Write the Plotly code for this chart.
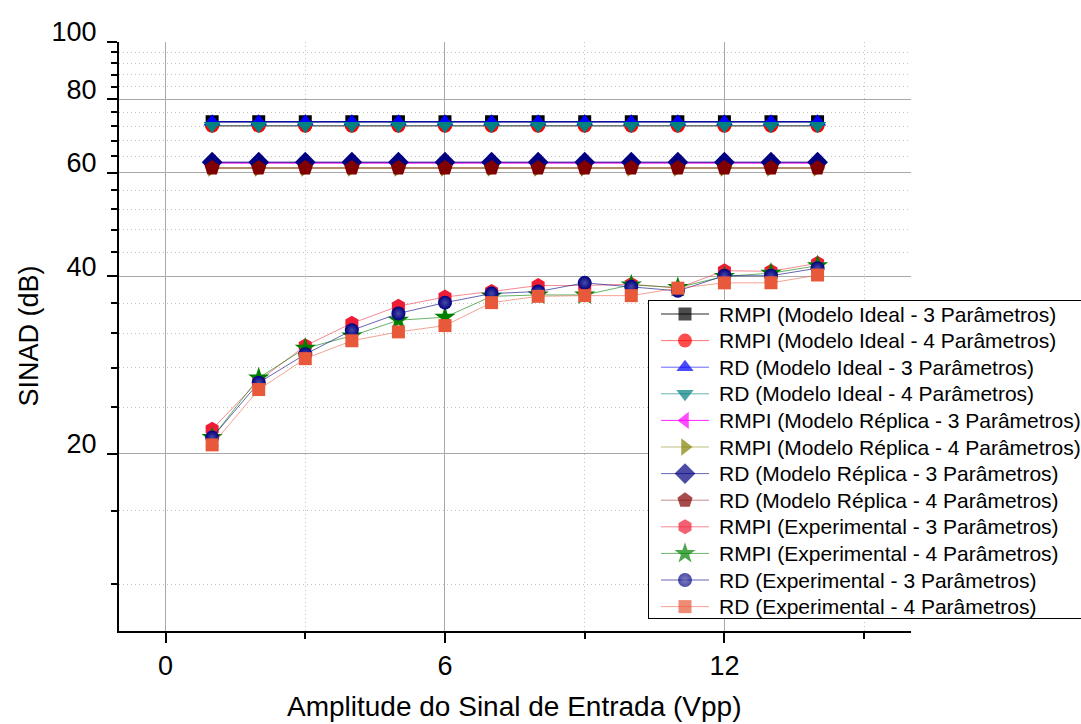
import plotly.graph_objects as go

# Input amplitude (Vpp)
amplitude = [1, 2, 3, 4, 5, 6, 7, 8, 9, 10, 11, 12, 13, 14]

# SINAD (dB) per configuration
rmpi_ideal_3p = [73.2, 73.2, 73.2, 73.2, 73.2, 73.2, 73.2, 73.2, 73.2, 73.2, 73.2, 73.2, 73.2, 73.2]
rmpi_ideal_4p = [72.1, 72.1, 72.1, 72.1, 72.1, 72.1, 72.1, 72.1, 72.1, 72.1, 72.1, 72.1, 72.1, 72.1]
rd_ideal_3p = [73.2, 73.2, 73.2, 73.2, 73.2, 73.2, 73.2, 73.2, 73.2, 73.2, 73.2, 73.2, 73.2, 73.2]
rd_ideal_4p = [72.1, 72.1, 72.1, 72.1, 72.1, 72.1, 72.1, 72.1, 72.1, 72.1, 72.1, 72.1, 72.1, 72.1]
rmpi_replica_3p = [62.3, 62.3, 62.3, 62.3, 62.3, 62.3, 62.3, 62.3, 62.3, 62.3, 62.3, 62.3, 62.3, 62.3]
rmpi_replica_4p = [61.1, 61.1, 61.1, 61.1, 61.1, 61.1, 61.1, 61.1, 61.1, 61.1, 61.1, 61.1, 61.1, 61.1]
rd_replica_3p = [62.5, 62.5, 62.5, 62.5, 62.5, 62.5, 62.5, 62.5, 62.5, 62.5, 62.5, 62.5, 62.5, 62.5]
rd_replica_4p = [61.1, 61.1, 61.1, 61.1, 61.1, 61.1, 61.1, 61.1, 61.1, 61.1, 61.1, 61.1, 61.1, 61.1]
rmpi_exp_3p = [22.0, 26.6, 30.5, 33.3, 35.6, 36.9, 37.7, 38.6, 38.6, 38.8, 38.2, 40.9, 40.8, 42.1]
rmpi_exp_4p = [21.3, 26.9, 30.2, 31.7, 33.7, 34.1, 37.0, 37.2, 37.2, 38.7, 38.3, 40.0, 40.5, 41.7]
rd_exp_3p = [21.3, 26.4, 29.5, 32.4, 34.6, 36.1, 37.4, 37.7, 39.0, 38.4, 37.8, 40.1, 40.1, 41.3]
rd_exp_4p = [20.7, 25.7, 29.0, 31.1, 32.2, 33.0, 36.1, 37.0, 37.1, 37.1, 38.2, 39.0, 39.0, 40.2]

series_names = [
    "RMPI (Modelo Ideal - 3 Parâmetros)",
    "RMPI (Modelo Ideal - 4 Parâmetros)",
    "RD (Modelo Ideal - 3 Parâmetros)",
    "RD (Modelo Ideal - 4 Parâmetros)",
    "RMPI (Modelo Réplica - 3 Parâmetros)",
    "RMPI (Modelo Réplica - 4 Parâmetros)",
    "RD (Modelo Réplica - 3 Parâmetros)",
    "RD (Modelo Réplica - 4 Parâmetros)",
    "RMPI (Experimental - 3 Parâmetros)",
    "RMPI (Experimental - 4 Parâmetros)",
    "RD (Experimental - 3 Parâmetros)",
    "RD (Experimental - 4 Parâmetros)",
]
series_values = [
    rmpi_ideal_3p, rmpi_ideal_4p, rd_ideal_3p, rd_ideal_4p,
    rmpi_replica_3p, rmpi_replica_4p, rd_replica_3p, rd_replica_4p,
    rmpi_exp_3p, rmpi_exp_4p, rd_exp_3p, rd_exp_4p,
]

x_ticks = [0, 6, 12]
x_minor = [3, 9, 15]
y_ticks = [20, 40, 60, 80, 100]
y_minor = [12, 16, 24, 28, 32, 36, 44, 48, 52, 56, 64, 68, 72, 76, 84, 88, 92, 96]

# Marker / line style per series: symbol, marker colour, line colour, marker size, line width
styles = [
    ("square", "#000000", "rgba(0,0,0,0.85)", 13, 1.5),
    ("circle", "#FF0000", "rgba(255,0,0,0.55)", 14, 1.5),
    ("triangle-up", "#0000FF", "rgba(0,0,255,0.6)", 15, 1.5),
    ("triangle-down", "#008080", "rgba(0,128,128,0.6)", 15, 1.5),
    ("triangle-left", "#FF00FF", "rgba(255,0,255,0.85)", 15, 1.5),
    ("triangle-right", "#808000", "rgba(128,128,0,0.5)", 15, 1.5),
    ("diamond", "#000080", "rgba(0,0,128,0.6)", 16, 1.5),
    ("pentagon", "#800000", "rgba(128,0,0,0.45)", 16, 1.5),
    ("hexagon", "#EE1C34", "rgba(240,40,60,0.55)", 15, 1),
    ("star", "#008000", "rgba(0,128,0,0.6)", 16, 1),
    ("circle", "#000080", "rgba(0,0,128,0.6)", 14, 1),
    ("square", "#E8583A", "rgba(232,88,58,0.55)", 13, 1),
]
SPHERE = "RD (Experimental - 3 Parâmetros)"
SPHERE_GLOW = "#4a4aa6"

FONT = "Liberation Sans, Arial, Helvetica, sans-serif"

W, H = 1081, 724
M_L, M_R, M_T, M_B = 119, 0, 42, 93
plot_w = W - M_L - M_R
plot_h = H - M_T - M_B
axis_right_px = 910.7

# legend box in page pixels
LEG_L, LEG_R, LEG_T, LEG_B = 649, W, 301, 618
ROW0, ROW_STEP = 314, 26.6
SYM_L, SYM_C, SYM_R, TXT_X = 661, 685, 709, 717

fig = go.Figure()

for name, vals, (sym, mcol, lcol, msize, lw) in zip(series_names, series_values, styles):
    marker = dict(symbol=sym, color=mcol, size=msize, line=dict(width=0))
    if name == SPHERE:
        marker["gradient"] = dict(type="radial", color=SPHERE_GLOW)
    fig.add_trace(go.Scatter(
        x=amplitude, y=vals, name=name, mode="lines+markers",
        line=dict(color=lcol, width=lw), marker=marker,
        xaxis="x", yaxis="y", showlegend=False,
    ))

# legend drawn as an inset subplot whose coordinates are page pixels
for i, (name, (sym, mcol, lcol, msize, lw)) in enumerate(zip(series_names, styles)):
    ry = ROW0 + ROW_STEP * i
    marker = dict(symbol=sym, color=mcol, size=[0, msize, 0], line=dict(width=0))
    if name == SPHERE:
        marker["gradient"] = dict(type="radial", color=SPHERE_GLOW)
    fig.add_trace(go.Scatter(
        x=[SYM_L, SYM_C, SYM_R], y=[ry, ry, ry], mode="lines+markers",
        line=dict(color=lcol, width=1), marker=marker,
        xaxis="x2", yaxis="y2", showlegend=False, hoverinfo="skip",
    ))
    fig.add_annotation(
        x=TXT_X, y=ry, xref="x2", yref="y2", text=name, showarrow=False,
        xanchor="left", yanchor="middle", font=dict(family=FONT, size=21, color="black"),
    )

# axis titles
fig.add_annotation(
    x=0.5, y=0, xref="x domain", yref="paper", yshift=-75, text="Amplitude do Sinal de Entrada (Vpp)",
    showarrow=False, xanchor="center", yanchor="middle", font=dict(family=FONT, size=28, color="black"),
)
fig.add_annotation(
    x=0, y=0.5, xref="paper", yref="paper", xshift=-91, text="SINAD (dB)", textangle=-90,
    showarrow=False, xanchor="center", yanchor="middle", font=dict(family=FONT, size=27, color="black"),
)

main_x_end = (axis_right_px - M_L) / plot_w
minor_grid = dict(showgrid=True, gridcolor="#c4c4c4", griddash="1px,3px", gridwidth=1)

fig.update_layout(
    width=W, height=H, autosize=False,
    margin=dict(l=M_L, r=M_R, t=M_T, b=M_B, pad=0),
    paper_bgcolor="white", plot_bgcolor="white",
    showlegend=False,
    font=dict(family=FONT, color="black"),
    xaxis=dict(
        domain=[0, main_x_end], range=[-1, 16], tickmode="array", tickvals=x_ticks,
        ticks="outside", ticklen=10, tickwidth=2, tickcolor="black",
        showline=True, linecolor="black", linewidth=2,
        showgrid=True, gridcolor="#a8a8a8", gridwidth=1, zeroline=False,
        tickfont=dict(family=FONT, size=27, color="black"), ticklabelstandoff=0,
        minor=dict(tickvals=x_minor, ticks="outside", ticklen=6, tickwidth=2, tickcolor="black", **minor_grid),
    ),
    yaxis=dict(
        type="log", range=[1, 2], tickmode="array", tickvals=y_ticks,
        ticktext=[str(v) for v in y_ticks],
        ticks="outside", ticklen=10, tickwidth=2, tickcolor="black",
        showline=True, linecolor="black", linewidth=2,
        showgrid=True, gridcolor="#a8a8a8", gridwidth=1, zeroline=False,
        tickfont=dict(family=FONT, size=27, color="black"), ticklabelstandoff=5, ticklabelshift=-10,
        minor=dict(tickvals=y_minor, ticks="outside", ticklen=6, tickwidth=2, tickcolor="black", **minor_grid),
    ),
    xaxis2=dict(
        domain=[(LEG_L - M_L) / plot_w, 1], range=[LEG_L, LEG_R], anchor="y2",
        showline=True, mirror=True, linecolor="black", linewidth=1,
        showgrid=False, zeroline=False, showticklabels=False, ticks="",
    ),
    yaxis2=dict(
        domain=[(H - M_B - LEG_B) / plot_h, (H - M_B - LEG_T) / plot_h], range=[LEG_B, LEG_T], anchor="x2",
        showline=True, linecolor="black", linewidth=1,
        showgrid=False, zeroline=False, showticklabels=False, ticks="",
    ),
)

fig.write_html("out.html")
